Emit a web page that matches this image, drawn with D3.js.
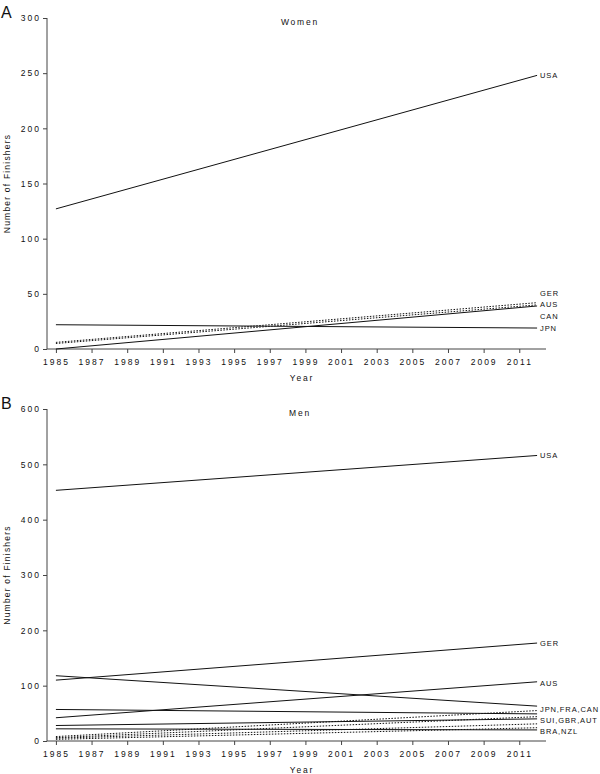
<!DOCTYPE html>
<html><head><meta charset="utf-8">
<script src="https://cdn.jsdelivr.net/npm/d3@7/dist/d3.min.js"></script>
<style>body{margin:0;background:#fff}svg text{font-family:"Liberation Sans",Arial,sans-serif;fill:#111}</style>
</head><body><div id="c"></div>
<script>
// Data
const years = [1985, 2012];
const xTicks = [1985,1987,1989,1991,1993,1995,1997,1999,2001,2003,2005,2007,2009,2011];

const womenCountries = ["USA","GER","AUS","CAN","JPN"];
const womenStart = [127, 6, 5, 0, 22];
const womenEnd   = [248, 42, 40, 39, 19];
const womenDotted = [false, true, true, false, false];
const womenLabels = ["USA","GER","AUS","CAN","JPN"];
const womenLabelValues = [248, 50, 40, 30, 19];
const womenTicks = [0,50,100,150,200,250,300];

const menCountries = ["USA","GER","AUS","JPN","FRA","CAN","SUI","GBR","AUT","BRA","NZL"];
const menStart = [453, 110, 42, 118, 57, 8, 28, 6, 5, 22, 3];
const menEnd   = [516, 177, 107, 63, 49, 55, 40, 44, 31, 20, 24];
const menDotted = [false,false,false,false,false,true,false,true,true,false,true];
const menLabels = ["USA","GER","AUS","JPN,FRA,CAN","SUI,GBR,AUT","BRA,NZL"];
const menLabelValues = [516, 177, 105, 58, 38, 17];
const menTicks = [0,100,200,300,400,500,600];

const W = 600, H = 774;
const svg = d3.select("#c").append("svg").attr("width", W).attr("height", H);

function panel(o){
  const g = svg.append("g");
  const x = d3.scaleLinear().domain([1984.5, 2012.5]).range([47, 546]);
  const y = d3.scaleLinear().domain([0, o.ymax]).range([o.y0, o.y1]);
  const ya = g.append("g").attr("transform","translate(47,0)")
    .call(d3.axisLeft(y).tickValues(o.ticks).tickSize(4).tickPadding(2));
  const xa = g.append("g").attr("transform",`translate(0,${o.y0})`)
    .call(d3.axisBottom(x).tickValues(xTicks).tickFormat(d3.format("d")).tickSize(4).tickPadding(6));
  [ya, xa].forEach(a=>{
    a.select(".domain").attr("stroke","#444").attr("stroke-width",1);
    a.selectAll(".tick line").attr("stroke","#444");
    a.selectAll("text").style("font-size","8.5px").style("letter-spacing","2px").attr("fill","#222");
  });
  ya.select(".domain").attr("d",`M-0,${o.y0}V${o.y1}`);
  xa.select(".domain").attr("d",`M47,0H546`);
  const line = d3.line().x(d=>x(d[0])).y(d=>y(d[1]));
  o.countries.forEach((c,i)=>{
    g.append("path").datum([[years[0],o.start[i]],[years[1],o.end[i]]])
      .attr("d", line).attr("fill","none").attr("stroke","#111").attr("stroke-width",1)
      .attr("stroke-dasharray", o.dotted[i] ? "1.5,1.5" : null);
  });
  o.labels.forEach((l,i)=>{
    g.append("text").attr("x", 540).attr("y", y(o.labelValues[i])).attr("dy","0.35em")
      .style("font-size","7.5px").style("letter-spacing","0.9px").attr("fill","#222").text(l);
  });
  g.append("text").attr("x",300).attr("y",o.y1+7).attr("text-anchor","middle")
    .style("font-size","8.5px").style("letter-spacing","1.8px").text(o.title);
  g.append("text").attr("x",302).attr("y",o.y0+32).attr("text-anchor","middle")
    .style("font-size","8.5px").style("letter-spacing","1.8px").text("Year");
  g.append("text").attr("transform",`translate(10,${(o.y0+o.y1)/2}) rotate(-90)`).attr("text-anchor","middle")
    .style("font-size","8.5px").style("letter-spacing","1.2px").text("Number of Finishers");
  g.append("text").attr("x",1).attr("y",o.y1).style("font-size","16px").text(o.letter);
}

panel({ymax:300, y0:349, y1:18, ticks:womenTicks, countries:womenCountries, start:womenStart, end:womenEnd,
  dotted:womenDotted, labels:womenLabels, labelValues:womenLabelValues, title:"Women", letter:"A"});
panel({ymax:600, y0:741, y1:409, ticks:menTicks, countries:menCountries, start:menStart, end:menEnd,
  dotted:menDotted, labels:menLabels, labelValues:menLabelValues, title:"Men", letter:"B"});
</script></body></html>
